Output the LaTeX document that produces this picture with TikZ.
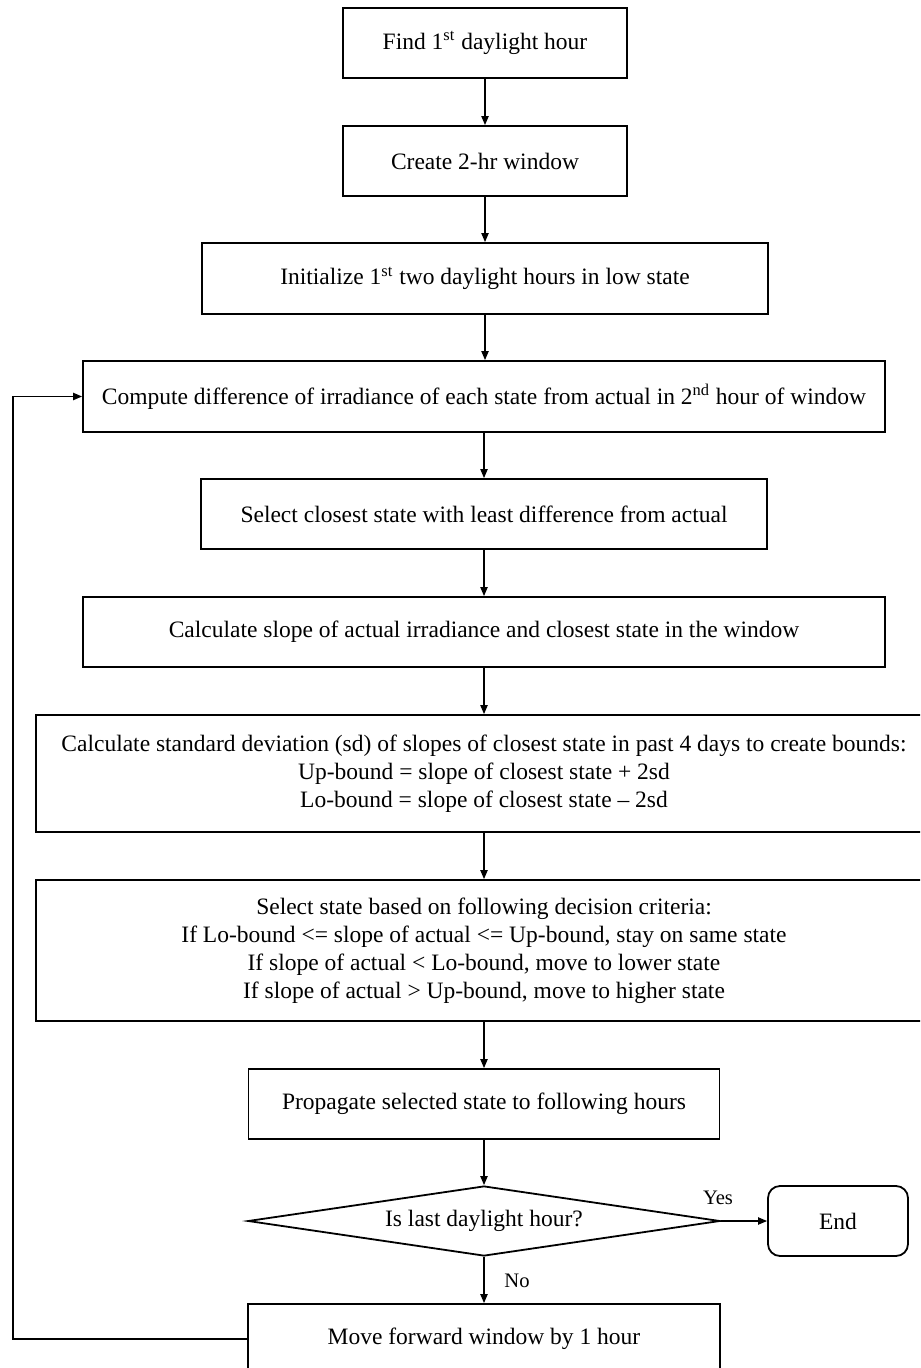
\documentclass[tikz,border=0pt]{standalone}
\usepackage{fontspec}
\setmainfont{Liberation Serif}
\usetikzlibrary{shapes.geometric,arrows.meta}
\begin{document}
\begin{tikzpicture}[x=0.5pt,y=-0.5pt,
  box/.style={draw, line width=0.9pt, inner sep=0pt, align=center,
    font=\fontsize{11.75}{14}\selectfont},
  arr/.style={-{Triangle[length=4.5pt,width=3.6pt]}, line width=0.75pt},
  lbl/.style={font=\fontsize{10.3}{12}\selectfont}]
\useasboundingbox (0,0) rectangle (920,1368);
\clip (0,0) rectangle (920,1368);
\fill[white] (0,0) rectangle (920,1368);

\node[box, minimum width=142pt, minimum height=35pt] (find) at (485,43)
  {Find 1\textsuperscript{st} daylight hour};
\node[box, minimum width=142pt, minimum height=35pt] (create) at (485,161)
  {Create 2-hr window};
\node[box, minimum width=283pt, minimum height=35.5pt] (init) at (485,278.5)
  {Initialize 1\textsuperscript{st} two daylight hours in low state};
\node[box, minimum width=401pt, minimum height=35.5pt] (comp) at (484,396.5)
  {Compute difference of irradiance of each state from actual in 2\textsuperscript{nd} hour of window};
\node[box, minimum width=283pt, minimum height=35pt] (sel) at (484,514)
  {Select closest state with least difference from actual};
\node[box, minimum width=401pt, minimum height=35pt] (slope) at (484,632)
  {Calculate slope of actual irradiance and closest state in the window};
\node[box, minimum width=448pt, minimum height=58.5pt] (sd) at (484,773.5)
  {Calculate standard deviation (sd) of slopes of closest state in past 4 days to create bounds:\\
   Up-bound = slope of closest state + 2sd\\
   Lo-bound = slope of closest state -- 2sd};
\node[box, minimum width=448pt, minimum height=70.5pt] (crit) at (484,950.5)
  {Select state based on following decision criteria:\\
   If Lo-bound <= slope of actual <= Up-bound, stay on same state\\
   If slope of actual < Lo-bound, move to lower state\\
   If slope of actual > Up-bound, move to higher state};
\node[box, minimum width=235.5pt, minimum height=35pt] (prop) at (484,1104)
  {Propagate selected state to following hours};
\node[box, diamond, shape aspect=6.7, minimum width=236pt, minimum height=35pt] (dec) at (484,1221)
  {Is last daylight hour?};
\node[box, rounded corners=6pt, minimum width=70pt, minimum height=35pt] (end) at (838,1221)
  {End};
\node[box, minimum width=236pt, minimum height=35pt] (move) at (484,1339)
  {Move forward window by 1 hour};

\draw[arr] (find.south) -- (find.south |- create.north);
\draw[arr] (create.south) -- (create.south |- init.north);
\draw[arr] (init.south) -- (init.south |- comp.north);
\draw[arr] (comp.south) -- (comp.south |- sel.north);
\draw[arr] (sel.south) -- (sel.south |- slope.north);
\draw[arr] (slope.south) -- (slope.south |- sd.north);
\draw[arr] (sd.south) -- (sd.south |- crit.north);
\draw[arr] (crit.south) -- (crit.south |- prop.north);
\draw[arr] (prop.south) -- (dec.north);
\draw[arr] (dec.east) -- (end.west);
\draw[arr] (dec.south) -- (move.north);
\coordinate (loop) at (13,1339);
\draw[arr] (move.west) -- (loop) |- (comp.west);

\node[lbl] (yes) at (718,1198) {Yes};
\node[lbl] (no) at (517,1281) {No};
\end{tikzpicture}
\end{document}
